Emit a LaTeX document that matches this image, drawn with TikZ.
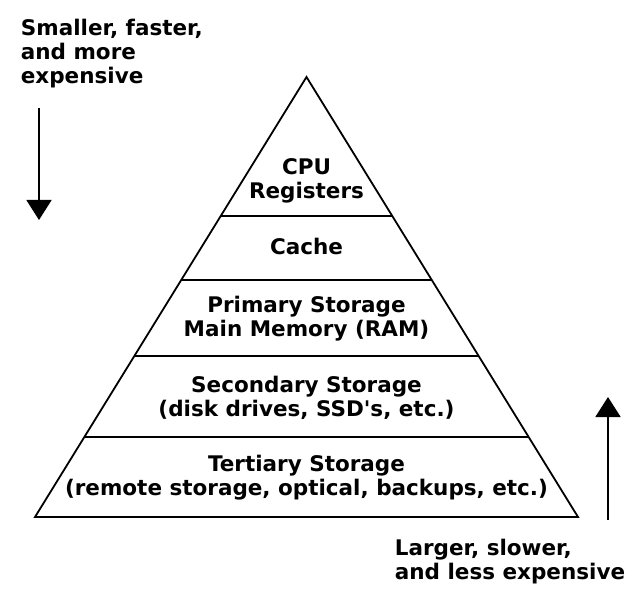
\documentclass[tikz,border=0pt]{standalone}
\usepackage{fontspec}
\setmainfont{DejaVu Sans}
\usepackage{tikz}
\usetikzlibrary{arrows.meta, positioning, calc}

\begin{document}
\begin{tikzpicture}[x=1pt, y=-1pt, line width=1.8pt,
    every node/.style={inner sep=0pt, align=center, font=\fontsize{21.5}{24}\selectfont\bfseries},
    level/.style={anchor=base},
    side/.style={anchor=base west, align=left},
    bigarrow/.style={-{Triangle[width=25pt, length=20pt]}}]
    \useasboundingbox (0,0) rectangle (637,593);

    % pyramid outline
    \coordinate (apex) at (306.5,77);
    \coordinate (bl) at (35,517);
    \coordinate (br) at (578,517);
    \draw[line join=miter] (apex) -- (bl) -- (br) -- cycle;

    % band borders
    \foreach \f [count=\i] in {0.316, 0.461, 0.634, 0.818} {
        \draw ($(apex)!\f!(bl)$) -- ($(apex)!\f!(br)$);
    }

    % levels (base = last line)
    \node[level] (cpu) at (306.5,199) {CPU\\Registers};
    \node[level] (cache) at (306.5,255) {Cache};
    \node[level] (primary) at (306.5,336.5) {Primary Storage\\Main Memory (RAM)};
    \node[level] (secondary) at (306.5,416) {Secondary Storage\\(disk drives, SSD\textquotesingle s, etc.)};
    \node[level] (tertiary) at (306.5,495) {Tertiary Storage\\(remote storage, optical, backups, etc.)};

    % side notes
    \node[side] (small) at (20,84) {Smaller, faster,\\and more\\expensive};
    \node[side] (large) at (394,579) {Larger, slower,\\and less expensive};

    \coordinate (downstart) at (39,108);
    \coordinate (downend) at (39,220);
    \coordinate (upstart) at (608,520);
    \coordinate (upend) at (608,397);
    \draw[bigarrow] (downstart) -- (downend);
    \draw[bigarrow] (upstart) -- (upend);
\end{tikzpicture}
\end{document}
